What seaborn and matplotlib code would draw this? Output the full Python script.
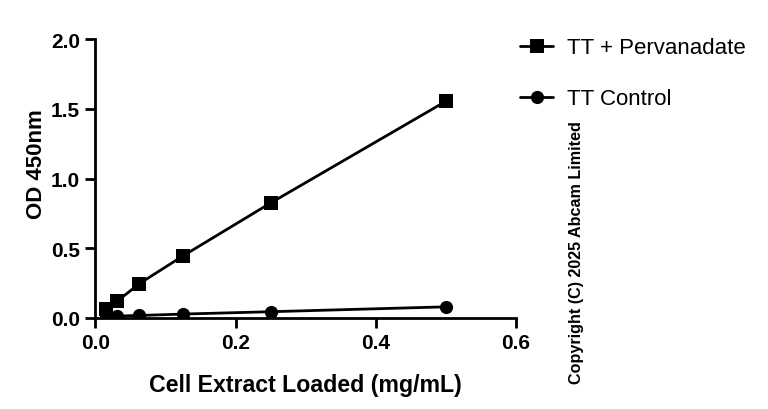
import matplotlib
matplotlib.use("Agg")
import matplotlib.pyplot as plt
import seaborn as sns
import pandas as pd

conc = [0.015625, 0.03125, 0.0625, 0.125, 0.25, 0.5]
perv = [0.065, 0.12, 0.245, 0.445, 0.825, 1.555]
ctrl = [0.008, 0.014, 0.018, 0.028, 0.045, 0.08]
series_names = ["TT + Pervanadate", "TT Control"]

df = pd.concat([
    pd.DataFrame({"x": conc, "y": perv, "s": series_names[0]}),
    pd.DataFrame({"x": conc, "y": ctrl, "s": series_names[1]}),
])

sns.set_style("ticks")
plt.rcParams['font.family'] = ['Liberation Sans', 'DejaVu Sans']
plt.rcParams.update({"text.color": "black", "axes.labelcolor": "black",
                     "xtick.color": "black", "ytick.color": "black"})

fig = plt.figure(figsize=(7.68, 4.10), dpi=100)
ax = fig.add_axes([0.124, 0.222, 0.548, 0.680])

sns.lineplot(data=df, x="x", y="y", hue="s", style="s",
             palette=["black", "black"], markers=["s", "o"], dashes=False,
             markersize=9.5, linewidth=2, markeredgewidth=0, ax=ax)

ax.set_xlim(0, 0.6)
ax.set_ylim(0, 2.0)
ax.set_xticks([0, 0.2, 0.4, 0.6])
ax.set_xticklabels(["0.0", "0.2", "0.4", "0.6"])
ax.set_yticks([0, 0.5, 1.0, 1.5, 2.0])
ax.set_yticklabels(["0.0", "0.5", "1.0", "1.5", "2.0"])
for s in ["top", "right"]:
    ax.spines[s].set_visible(False)
for s in ["left", "bottom"]:
    ax.spines[s].set_linewidth(2)
    ax.spines[s].set_color("black")
ax.tick_params(width=2, length=7, color="black", labelcolor="black", labelsize=15, pad=4)
for lab in ax.get_xticklabels() + ax.get_yticklabels():
    lab.set_fontweight("bold")
ax.set_xlabel("Cell Extract Loaded (mg/mL)", fontsize=16.7, fontweight="bold", labelpad=15, color="black")
ax.set_ylabel("OD 450nm", fontsize=16, fontweight="bold", color="black")
ax.yaxis.set_label_coords(-0.14, 0.556)
ax.yaxis.label.set_va("center")

h, l = ax.get_legend_handles_labels()
leg = ax.legend(h, l, loc="upper left", bbox_to_anchor=(0.651, 0.955), bbox_transform=fig.transFigure,
                frameon=False, fontsize=16, handlelength=1.5, handletextpad=0.6, labelspacing=1.35)
for t in leg.get_texts():
    t.set_color("black")

fig.text(0.751, 0.385, "Copyright (C) 2025 Abcam Limited", rotation=90,
         ha="center", va="center", fontsize=11.6, fontweight="bold", color="black")

fig.savefig("out.png", dpi=100)
